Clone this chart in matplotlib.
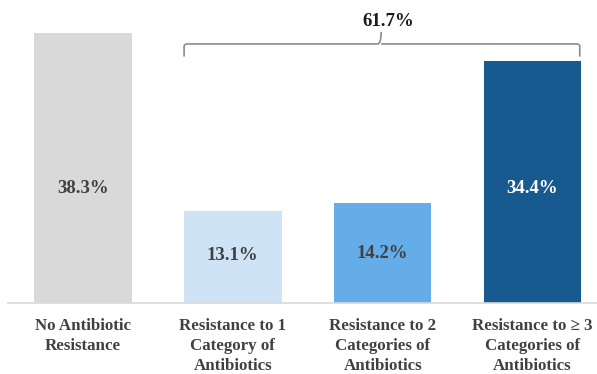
import matplotlib
matplotlib.use("Agg")
import matplotlib.pyplot as plt
from matplotlib.path import Path
from matplotlib.patches import PathPatch

categories = ["No Antibiotic\nResistance", "Resistance to 1\nCategory of\nAntibiotics",
              "Resistance to 2\nCategories of\nAntibiotics", "Resistance to \u2265 3\nCategories of\nAntibiotics"]
values = [38.3, 13.1, 14.2, 34.4]
value_labels = ["38.3%", "13.1%", "14.2%", "34.4%"]
total_label = "61.7%"
colors = ["#d9d9d9", "#cfe3f6", "#65ade8", "#175a8f"]
label_colors = ["#404040", "#404040", "#404040", "#ffffff"]
label_y = [16.2, 6.8, 7.1, 16.2]

plt.rcParams['font.family'] = ['Liberation Serif', 'DejaVu Serif']
fig = plt.figure(figsize=(5.97, 3.74), dpi=100)
W, H = 597, 374
ax = fig.add_axes([8 / W, 71 / H, 589 / W, 303 / H])
x = list(range(len(values)))
ax.bar(x, values, width=0.65, color=colors, zorder=2)
ax.set_xlim(-0.5, 3.43)
ax.set_ylim(0, 43.04)
for s in ["top", "right", "left"]:
    ax.spines[s].set_visible(False)
ax.spines["bottom"].set_color("#d9d9d9")
ax.spines["bottom"].set_linewidth(1.2)
ax.set_yticks([])
ax.set_xticks(x)
ax.set_xticklabels(categories, fontsize=12.2, fontweight="bold", color="#404040", linespacing=1.32)
ax.tick_params(axis="x", length=0, pad=11)
for xi, lab, c, yy in zip(x, value_labels, label_colors, label_y):
    ax.text(xi, yy, lab, ha="center", va="center", fontsize=13.5, fontweight="bold", color=c)

# bracket over bars 2-4
x0 = 1 - 0.325
x1 = 3 + 0.315
xm = 1.99
yb = 36.8
ye = 35.0
yp = 38.5
r = 0.35
dx = 0.025
verts = [(x0, ye), (x0, yb - r), (x0, yb), (x0 + dx, yb),
         (xm - dx, yb), (xm, yb), (xm, yp),
         (xm, yb), (xm + dx, yb),
         (x1 - dx, yb), (x1, yb), (x1, yb - r), (x1, ye)]
codes = [Path.MOVETO, Path.LINETO, Path.CURVE3, Path.CURVE3,
         Path.LINETO, Path.CURVE3, Path.CURVE3,
         Path.MOVETO, Path.CURVE3, Path.LINETO, Path.CURVE3, Path.CURVE3, Path.LINETO]
ax.add_patch(PathPatch(Path(verts, codes), fill=False, edgecolor="#8c8c8c", lw=1.2, clip_on=False))
ax.text(2.04, 40.0, total_label, ha="center", va="center", fontsize=13.5, fontweight="bold", color="#1a1a1a")

fig.savefig("out.png", dpi=100)
